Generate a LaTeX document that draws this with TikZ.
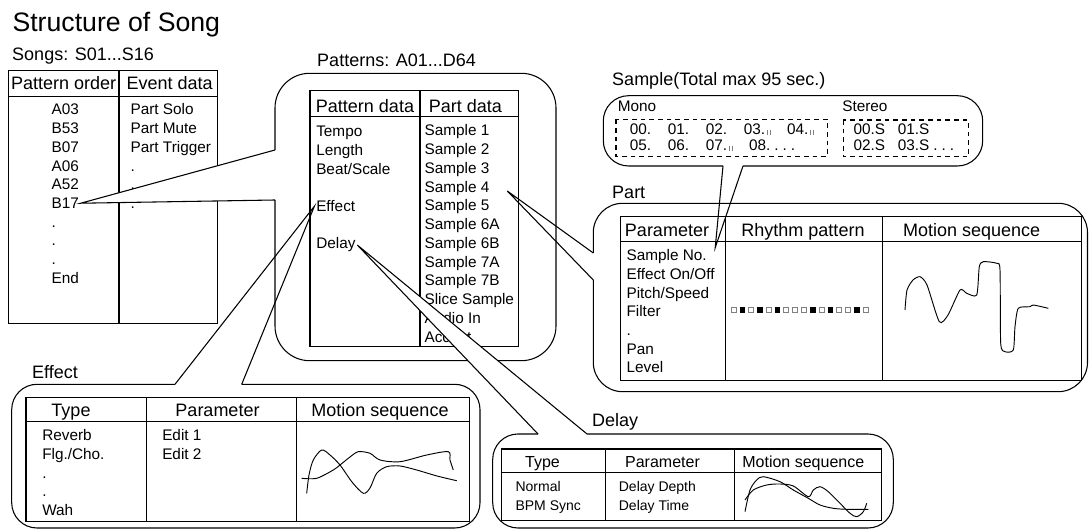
\documentclass[tikz,border=0pt]{standalone}
\usepackage{fontspec}
\setmainfont{Liberation Sans}
\usepackage{tikz}
\usetikzlibrary{calc}
\newcommand{\bars}{\kern1.2pt\textcolor{gray}{\rule{0.6pt}{3.5pt}\kern1.5pt\rule{0.6pt}{3.5pt}}}
\newcommand{\gap}{\hspace{12.5pt}}
\newcommand{\more}{\hspace{3pt}.\hspace{3pt}.\hspace{3pt}.}

\begin{document}
\begin{tikzpicture}[x=0.75pt, y=-0.75pt, line width=0.8pt]
        \tikzstyle{title} = [anchor=base west, inner sep=0pt, font=\fontsize{20}{24}\selectfont]
        \tikzstyle{caption} = [anchor=base west, inner sep=0pt, font=\fontsize{13.5}{16}\selectfont]
        \tikzstyle{head} = [anchor=base, inner sep=0pt, font=\fontsize{13.5}{16}\selectfont]
        \tikzstyle{entry} = [anchor=base west, inner sep=1pt, font=\fontsize{11.5}{14}\selectfont]
        \tikzstyle{dhead} = [head, font=\fontsize{12}{14}\selectfont]
        \tikzstyle{dentry} = [entry, font=\fontsize{10.5}{13}\selectfont]
        \tikzstyle{wave} = [line width=0.7pt]
        \tikzstyle{frame} = [dashed, dash pattern=on 3.5pt off 3pt]

        \useasboundingbox (0,0) rectangle (1089,530);

        \node [title] (title) at (12,32) {Structure of Song};

        % songs table
        \node [caption] (songs) at (11.7,60.5) {Songs: S01...S16};
        \draw (8.3,70.7) rectangle (217.7,323.3);
        \draw (8.3,96.7) -- (217.7,96.7);
        \draw (119,70.7) -- (119,323.3);
        \node [head] (porder) at (63.6,90) {Pattern order};
        \node [head] (evdata) at (169.7,90) {Event data};
        \foreach \t [count=\i from 0] in {A03,B53,B07,A06,A52,B17,.,.,.,End}
            \node [entry] (ord\i) at (49.7,115+18.7*\i) {\t};
        \foreach \t [count=\i from 0] in {Part Solo,Part Mute,Part Trigger,.,.,.}
            \node [entry] (ev\i) at (128.7,115+18.7*\i) {\t};

        % patterns balloon, tail to B17
        \node [caption] (patterns) at (316.7,66.5) {Patterns: A01...D64};
        \coordinate (pat-a) at (275,150);
        \coordinate (pat-b) at (275,200);
        \draw [rounded corners=26pt] (pat-b) -- (275,360.7) -- (556,360.7) -- (556,73.3) -- (275,73.3) -- (pat-a);
        \fill [white] (ord5.east) -- (pat-a) -- (pat-b) -- cycle;
        \draw (pat-a) -- (ord5.east) -- (pat-b);

        \draw (310,90.7) rectangle (518.3,346.7);
        \draw (310,116.7) -- (518.3,116.7);
        \draw (420,90.7) -- (420,346.7);
        \node [head] (pdata) at (365,112.7) {Pattern data};
        \node [head] (prdata) at (465.3,112.7) {Part data};
        \foreach \t [count=\i from 0] in {Tempo,Length,Beat/Scale}
            \node [entry] (pd\i) at (314.4,136.7+18.75*\i) {\t};
        \node [entry] (effect) at (314.4,211.7) {Effect};
        \node [entry] (delay) at (314.4,249) {Delay};
        \foreach \t [count=\i from 0] in {Sample 1,Sample 2,Sample 3,Sample 4,Sample 5,Sample 6A,Sample 6B,Sample 7A,Sample 7B,Slice Sample,Audio In,Accent}
            \node [entry] (prt\i) at (422.7,136+18.75*\i) {\t};

        % delay balloon
        \node [caption] (dlylabel) at (591.7,426.7) {Delay};
        \coordinate (dly-a) at (538,434);
        \coordinate (dly-b) at (587,434);
        \fill [white] (delay.east) -- (dly-a) -- (dly-b) -- cycle;
        \draw (dly-a) -- (delay.east) -- (dly-b);
        \draw [rounded corners=19pt] (dly-b) -- (893.3,434) -- (893.3,528) -- (492.7,528) -- (492.7,434) -- (dly-a);

        \draw (501.7,449) rectangle (881.7,520.7);
        \draw (501.7,472.7) -- (881.7,472.7);
        \draw (605.7,449) -- (605.7,520.7);
        \draw (734.3,449) -- (734.3,520.7);
        \node [dhead] (dtype) at (542.5,467.3) {Type};
        \node [dhead] (dparam) at (662.5,467.3) {Parameter};
        \node [dhead] (dmotion) at (803.3,467.3) {Motion sequence};
        \foreach \t [count=\i from 0] in {Normal,BPM Sync}
            \node [dentry] (dt\i) at (513.7,491.7+18.7*\i) {\t};
        \foreach \t [count=\i from 0] in {Delay Depth,Delay Time}
            \node [dentry] (dp\i) at (617,491.7+18.7*\i) {\t};
        \draw [wave] plot [smooth, tension=0.5] coordinates {(745,511.7) (750,490) (756.7,480) (763.3,476.7) (780,481.7) (793.3,490) (808.3,498.3) (820,505) (833.3,508.3) (846.7,509.3) (868.3,509.3)};
        \draw [wave] plot [smooth, tension=0.5] coordinates {(745,500) (753.3,490) (766.7,485) (780,484) (793.3,486) (808.3,496.7) (813.3,490) (820,486.7) (828.3,491.7) (840,503.3) (850,513.3) (856.7,516.7) (863.3,511.7) (866.7,503.3)};

        % effect balloon
        \node [caption] (efflabel) at (31.7,378.3) {Effect};
        \coordinate (eff-a) at (175,384.3);
        \coordinate (eff-b) at (241.7,384.3);
        \draw [rounded corners=19pt] (eff-b) -- (480,384.3) -- (480,528) -- (11.7,528) -- (11.7,384.3) -- (eff-a);
        \draw (eff-a) -- (effect.west) -- (eff-b);

        \draw (26,397.7) rectangle (469.3,521.7);
        \draw (26,421.7) -- (469.3,421.7);
        \draw (146.7,397.7) -- (146.7,521.7);
        \draw (296.7,397.7) -- (296.7,521.7);
        \node [head] (etype) at (71,416.7) {Type};
        \node [head] (eparam) at (217.5,416.7) {Parameter};
        \node [head] (emotion) at (380,416.7) {Motion sequence};
        \foreach \t [count=\i from 0] in {Reverb,Flg./Cho.,.,.,Wah}
            \node [entry] (et\i) at (40.4,440.7+18.7*\i) {\t};
        \foreach \t [count=\i from 0] in {Edit 1,Edit 2}
            \node [entry] (ep\i) at (160.4,440.7+18.7*\i) {\t};
        \draw [wave] plot [smooth, tension=0.5] coordinates {(306.7,493.3) (309,475) (313.3,460) (321.7,450) (330,455) (340,465) (352,482) (363.3,493.3) (370,488) (376.7,473.3) (386.7,466.7) (400,466) (416.7,470) (437,476) (456.7,480.7)};
        \draw [wave] plot [smooth, tension=0.5] coordinates {(301.7,478.3) (316.7,478.3) (333.3,470) (340,465) (350,457) (358.3,451.7) (370,453.3) (380,460) (400,461.7) (426.7,455) (448.3,451.7) (450,460) (453.3,470)};

        % part balloon, tail to Sample 4
        \node [caption] (partlabel) at (611.7,198.3) {Part};
        \coordinate (part-a) at (593.3,253);
        \coordinate (part-b) at (593.3,280);
        \draw [rounded corners=22pt] (part-b) -- (593.3,391.7) -- (1087.5,391.7) -- (1087.5,203.3) -- (593.3,203.3) -- (part-a);
        \draw (part-a) -- ([shift={(12pt,-2pt)}]prt3.east) -- (part-b);

        \draw (620.7,216.7) rectangle (1081.7,380.7);
        \draw (620.7,241.7) -- (1081.7,241.7);
        \draw (725.7,216.7) -- (725.7,380.7);
        \draw (882.3,216.7) -- (882.3,380.7);
        \node [head] (pparam) at (667,236.7) {Parameter};
        \node [head] (prhythm) at (803,236.7) {Rhythm pattern};
        \node [head] (pmotion) at (971.7,236.7) {Motion sequence};
        \foreach \t [count=\i from 0] in {Sample No.,Effect On/Off,Pitch/Speed,Filter,.,Pan,Level}
            \node [entry] (par\i) at (624.7,260.7+18.7*\i) {\t};
        \foreach \i in {0,2,4,6,7,8,10,12,13,15}
            \draw [line width=0.5pt, gray] (731+8.8*\i,307.7) rectangle ++(5,5);
        \foreach \i in {1,3,5,9,11,14}
            \fill (730.7+8.8*\i,307.4) rectangle ++(5.6,5.6);
        \draw [wave] plot [smooth, tension=0.4] coordinates {(905,310) (907,290) (913,280) (920,276.7) (927,285) (939.3,321.7) (948,315) (960,290) (966.7,293.3) (976.7,295) (979.3,266.7) (983.3,261.7) (996.7,263.3) (1000,270) (1000.7,343.3) (1005,351.7) (1013.3,350) (1015,326.7) (1018.3,308.3) (1030,306.7) (1033.3,305) (1048.3,308.3)};

        % sample balloon, tail to Sample No.
        \node [caption] (samplelabel) at (611.7,86) {Sample(Total max 95 sec.)};
        \coordinate (sam-a) at (723,166);
        \coordinate (sam-b) at (743,166);
        \draw [rounded corners=19pt] (sam-b) -- (982.7,166) -- (982.7,95.7) -- (603.3,95.7) -- (603.3,166) -- (sam-a);
        \draw (sam-a) -- ([xshift=5pt]par0.north east) -- (sam-b);

        \node [entry] (mono) at (616,111.7) {Mono};
        \node [entry] (stereo) at (840.4,111.7) {Stereo};
        \draw [frame] (616,119.3) rectangle (827.3,156.7);
        \draw [frame] (843.3,120) rectangle (968.3,156.7);
        \node [entry] (mono1) at (628,135) {00.\gap01.\gap02.\gap03.\bars\gap04.\bars};
        \node [entry] (mono2) at (628,150.7) {05.\gap06.\gap07.\bars\gap08.\more};
        \node [entry] (stereo1) at (851.7,135) {00.S\hspace{9.5pt}01.S};
        \node [entry] (stereo2) at (851.7,150.7) {02.S\hspace{9.5pt}03.S\more};
    \end{tikzpicture}
\end{document}
